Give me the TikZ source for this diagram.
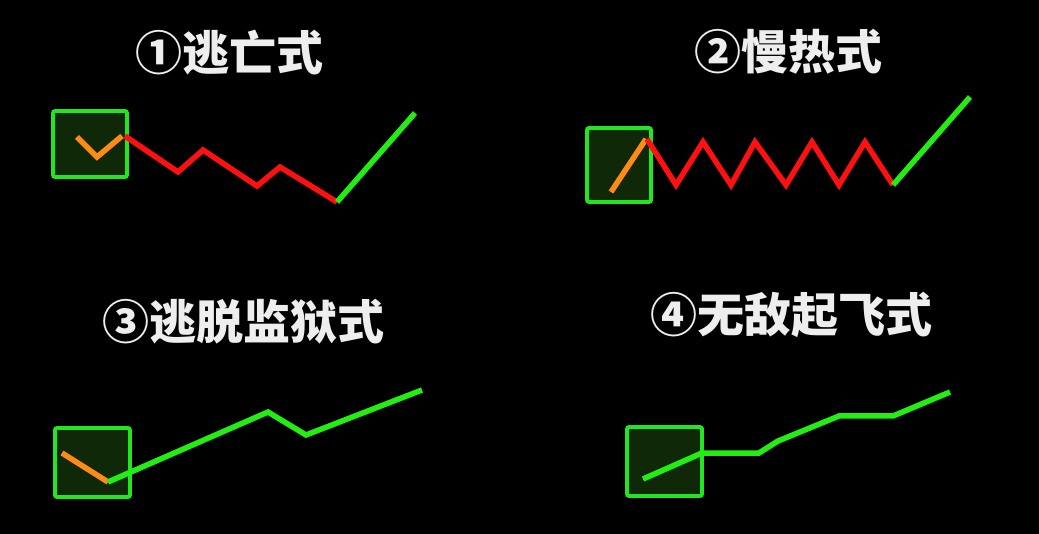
\documentclass[tikz,border=0pt]{standalone}
\usepackage{fontspec}
\newfontfamily\cjk{Noto Sans CJK SC}
\definecolor{boxgreen}{HTML}{22E61E}
\definecolor{boxfill}{HTML}{0F2808}
\definecolor{linegreen}{HTML}{22EE11}
\definecolor{linered}{HTML}{FF1010}
\definecolor{lineorange}{HTML}{FF8A14}
\definecolor{titlegray}{HTML}{EEEEEE}
\begin{document}
\begin{tikzpicture}[
  x=1pt, y=-1pt,
  trap/.style={draw=boxgreen, fill=boxfill, line width=3.8pt, rounded corners=2pt, inner sep=0pt},
  seed/.style={draw=lineorange, line width=5.5pt},
  fall/.style={draw=linered, line width=5.5pt},
  climb/.style={draw=linegreen, line width=5.5pt},
  caption/.style={text=titlegray, font=\cjk\bfseries\fontsize{47}{47}\selectfont, inner sep=0pt}
]
\fill[black] (0,0) rectangle (1039,534);
\useasboundingbox (0,0) rectangle (1039,534);

\node[caption] (t1) at (229,53) {①逃亡式};
\node[caption] (t2) at (788,52) {②慢热式};
\node[caption] (t3) at (243,322) {③逃脱监狱式};
\node[caption] (t4) at (791,315) {④无敌起飞式};

% escape
\node[trap, minimum width=74pt, minimum height=66pt] (b1) at (90,144) {};
\draw[seed] (77,137) -- (97,157) -- (122,136);
\draw[fall] (125,136) -- (178,172) -- (203,150) -- (257,186) -- (280,167) -- (337,202);
\draw[climb] (337,202) -- (415,113);

% slow warm-up
\node[trap, minimum width=64pt, minimum height=74pt] (b2) at (619,165) {};
\draw[seed] (611,192) -- (646,139);
\draw[fall] (647,139) -- (676,185) -- (703,142) -- (731,185) -- (755,142) -- (786,185)
  -- (812,142) -- (839,185) -- (865,142) -- (893,185);
\draw[climb] (893,185) -- (970,97);

% jailbreak
\node[trap, minimum width=75pt, minimum height=69pt] (b3) at (92.5,462.5) {};
\draw[seed] (62,453) -- (108,482);
\draw[climb] (108,482) -- (268,412) -- (306,435) -- (422,390);

% take-off
\node[trap, minimum width=75pt, minimum height=69pt] (b4) at (664.5,461.5) {};
\draw[climb] (643,479) -- (702,453) -- (759,453) -- (778,441) -- (839,416) -- (893,416) -- (950,392);
\end{tikzpicture}
\end{document}
